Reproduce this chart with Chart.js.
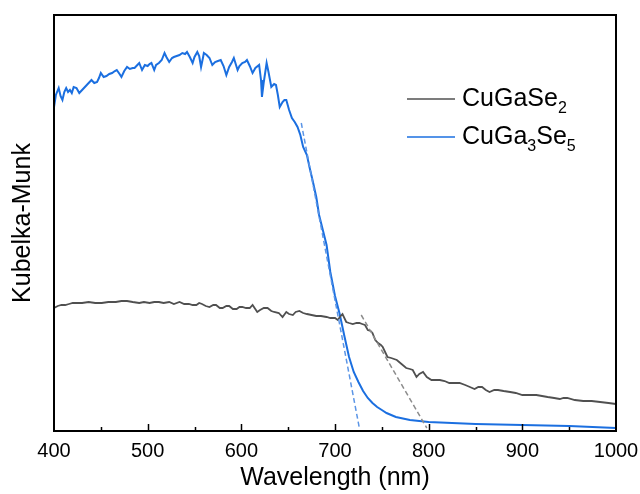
<!DOCTYPE html>
<html lang="en">
  <head>
    <meta charset="UTF-8">
    <title>Kubelka-Munk</title>
    <script src="https://cdn.jsdelivr.net/npm/chart.js@4.4.0/dist/chart.umd.min.js"></script>
    <style>
      body { margin: 0; background: #fff; }
    </style>
  </head>
  <body>
    <canvas id="myChart" width="640" height="494"></canvas>

    <script>
      // CuGaSe2 (gray) - wavelength (nm) and K-M signal (arb. units)
      const cgsWl = [400,404,408,412,416,420,424,430,437,444,451,458,466,472,478,484,491,496,502,507,512,517,523,528,534,539,544,548,552,555,558,562,566,570,573,577,580,584,587,591,595,598,601,605,609,612,617,620,624,628,632,635,640,644,648,651,655,658,662,666,670,675,680,685,691,695,700,703,706,708,712,715,719,723,726,729,732,735,738,740,743,746,749,751,754,756,760,766,771,776,780,783,787,790,794,798,803,808,812,817,822,828,833,839,844,849,853,857,861,865,870,874,880,887,893,900,908,915,921,927,934,940,944,948,956,965,974,983,992,1000];
      const cgsKm = [123,125,126,126,127,128,128,128,129,128,128,129,129,130,130,129,128,129,128,129,129,128,129,127,129,127,127,126,126,128,127,125,124,126,126,123,123,125,125,122,122,124,124,123,123,126,119,121,123,123,120,119,118,114,119,117,116,119,120,118,117,116,115,115,114,113,113,111,115,117,109,108,107,108,108,107,106,101,100,98,91,88,86,84,78,74,73,71,67,63,62,61,54,57,59,54,51,51,51,50,48,48,48,46,44,42,44,44,41,39,41,41,40,39,38,36,36,36,35,34,33,32,33,33,31,30,30,29,28,27];

      // CuGa3Se5 (blue)
      const cg3Wl = [400,402,405,407,409,411,413,415,417,419,421,424,427,430,433,436,440,443,446,448,450,453,456,459,462,465,467,470,472,475,478,481,484,486,489,491,494,497,500,502,504,507,509,512,515,518,520,523,526,528,531,534,537,540,542,545,548,550,553,555,557,559,560,563,566,569,572,575,578,581,584,587,590,592,594,596,598,601,604,606,609,612,615,619,621,622,624,627,629,632,635,637,639,641,644,646,648,651,654,657,660,663,666,670,673,676,680,683,687,691,695,700,705,710,715,720,725,730,735,740,745,750,755,760,765,770,775,780,790,800,850,900,950,1000];
      const cg3Km = [324,336,343,335,331,339,343,339,341,338,344,343,338,341,344,347,351,348,349,353,358,354,355,357,358,360,361,357,354,360,364,362,363,363,366,368,361,366,365,367,368,361,366,368,371,378,374,369,373,374,375,376,378,377,379,374,368,374,379,375,364,373,378,376,373,366,369,370,371,365,356,364,369,373,367,361,365,368,369,371,365,358,363,366,351,334,349,368,359,344,347,346,336,324,329,331,331,321,313,309,304,296,284,276,263,251,234,216,201,186,159,135,117,95,74,59,49,40,33,28,24,21,18,16,14,13,12,11,10,9,7,6,5,3];

      // band-edge tangent lines (dashed)
      const cgsFitWl = [728, 798];
      const cgsFitKm = [116, 3];
      const cg3FitWl = [664, 726];
      const cg3FitKm = [308, 3];

      const xTicks = [400, 500, 600, 700, 800, 900, 1000];

      const grayCol = '#505050';
      const blueCol = '#1b6fe0';
      const font = 'Liberation Sans, Arial, sans-serif';

      const pts = (xs, ys) => xs.map((x, i) => ({ x: x, y: ys[i] }));

      // frame + inward ticks (major every 100, minor every 50)
      const framePlugin = {
        id: 'frame',
        afterDatasetsDraw(chart) {
          const { ctx, chartArea: a, scales } = chart;
          ctx.save();
          ctx.strokeStyle = '#000';
          ctx.lineWidth = 2;
          ctx.strokeRect(a.left, a.top, a.right - a.left, a.bottom - a.top);
          ctx.lineWidth = 1.5;
          for (let v = 450; v < 1000; v += 50) {
            const x = Math.round(scales.x.getPixelForValue(v)) + 0.5;
            const len = v % 100 === 0 ? 7 : 4;
            ctx.beginPath();
            ctx.moveTo(x, a.bottom);
            ctx.lineTo(x, a.bottom - len);
            ctx.stroke();
          }
          ctx.restore();
        }
      };

      // legend with subscripts
      const legendPlugin = {
        id: 'subLegend',
        afterDraw(chart) {
          const ctx = chart.ctx;
          const items = [
            { color: grayCol, parts: [['CuGaSe', 0], ['2', 1]] },
            { color: blueCol, parts: [['CuGa', 0], ['3', 1], ['Se', 0], ['5', 1]] }
          ];
          ctx.save();
          items.forEach((it, i) => {
            const yLine = 99 + i * 38;
            ctx.strokeStyle = it.color;
            ctx.lineWidth = 1.5;
            ctx.beginPath();
            ctx.moveTo(407, yLine);
            ctx.lineTo(455, yLine);
            ctx.stroke();
            let x = 462;
            const base = yLine + 7;
            ctx.fillStyle = '#000';
            ctx.textBaseline = 'alphabetic';
            it.parts.forEach(p => {
              ctx.font = (p[1] ? '16px ' : '25px ') + font;
              ctx.fillText(p[0], x, p[1] ? base + 7 : base);
              x += ctx.measureText(p[0]).width;
            });
          });
          ctx.restore();
        }
      };

      const ctx = document.getElementById('myChart').getContext('2d');
      const myChart = new Chart(ctx, {
        type: 'line',
        data: {
          datasets: [
            {
              label: 'CuGaSe2 fit',
              data: pts(cgsFitWl, cgsFitKm),
              borderColor: '#8c8c8c',
              borderWidth: 1.5,
              borderDash: [5, 3],
              pointRadius: 0
            },
            {
              label: 'CuGa3Se5 fit',
              data: pts(cg3FitWl, cg3FitKm),
              borderColor: '#5b95e6',
              borderWidth: 1.5,
              borderDash: [5, 3],
              pointRadius: 0
            },
            {
              label: 'CuGaSe2',
              data: pts(cgsWl, cgsKm),
              borderColor: grayCol,
              borderWidth: 1.8,
              pointRadius: 0
            },
            {
              label: 'CuGa3Se5',
              data: pts(cg3Wl, cg3Km),
              borderColor: blueCol,
              borderWidth: 2,
              pointRadius: 0
            }
          ]
        },
        options: {
          responsive: false,
          animation: false,
          layout: { padding: { top: 15, right: 24, left: 0, bottom: 0 } },
          plugins: { legend: { display: false }, tooltip: { enabled: false } },
          scales: {
            x: {
              type: 'linear',
              min: 400,
              max: 1000,
              afterBuildTicks: s => { s.ticks = xTicks.map(v => ({ value: v })); },
              afterFit: s => { s.height = 63; s.paddingLeft = 0; s.paddingRight = 0; },
              grid: { display: false, drawTicks: false },
              border: { display: false },
              ticks: {
                color: '#000',
                padding: 8,
                maxRotation: 0,
                callback: v => String(v),
                font: { family: font, size: 20 }
              },
              title: {
                display: true,
                text: 'Wavelength (nm)',
                color: '#000',
                padding: { top: 0, bottom: 1 },
                font: { family: font, size: 25 }
              }
            },
            y: {
              min: 0,
              max: 416,
              afterFit: s => { s.width = 54; },
              grid: { display: false, drawTicks: false },
              border: { display: false },
              ticks: { display: false },
              title: {
                display: true,
                text: 'Kubelka-Munk',
                color: '#000',
                padding: { top: 8, bottom: 16 },
                font: { family: font, size: 25 }
              }
            }
          }
        },
        plugins: [framePlugin, legendPlugin]
      });
    </script>
  </body>
</html>
